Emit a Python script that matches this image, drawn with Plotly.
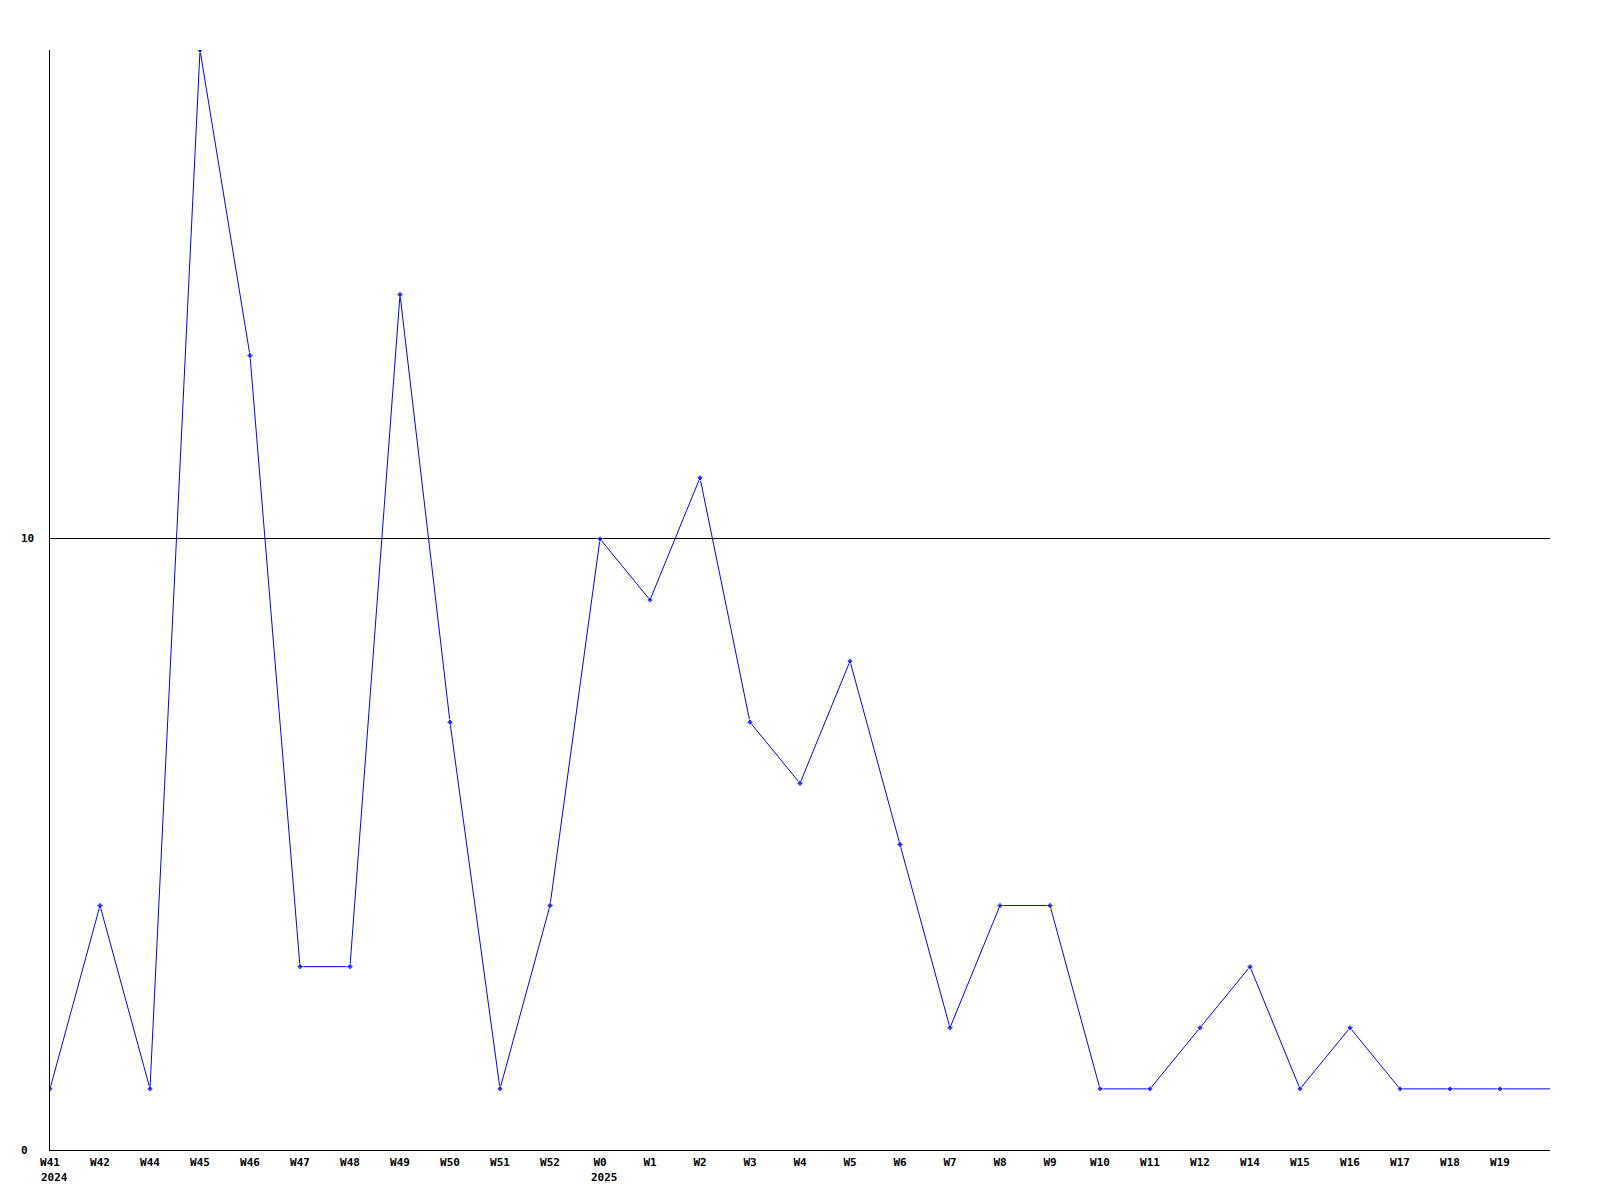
import plotly.graph_objects as go

weeks = ["W41", "W42", "W44", "W45", "W46", "W47", "W48", "W49", "W50", "W51", "W52",
         "W0", "W1", "W2", "W3", "W4", "W5", "W6", "W7", "W8", "W9", "W10", "W11",
         "W12", "W14", "W15", "W16", "W17", "W18", "W19", ""]
values = [1, 4, 1, 18, 13, 3, 3, 14, 7, 1, 4,
          10, 9, 11, 7, 6, 8, 5, 2, 4, 4, 1, 1,
          2, 3, 1, 2, 1, 1, 1, 1]
year_labels = {"W41": "2024", "W0": "2025"}
y_ticks = [0, 10]

x = list(range(len(weeks)))
marker_sizes = [5 if w else 0 for w in weeks]

font_family = "DejaVu Sans Mono"
lab_font = dict(family=font_family, size=11, color="black", weight="bold")

fig = go.Figure()
fig.add_trace(go.Scatter(
    x=x, y=values, mode="lines+markers",
    line=dict(color="#0000FF", width=1),
    marker=dict(symbol="diamond", size=marker_sizes, color="#0000FF"),
    showlegend=False, hoverinfo="skip",
))

for w, yr in year_labels.items():
    fig.add_annotation(
        x=weeks.index(w), xref="x", y=0, yref="paper",
        text=yr, showarrow=False, xanchor="left", yanchor="top",
        xshift=-11, yshift=-19, font=lab_font,
    )

for v in y_ticks:
    fig.add_annotation(
        x=0, xref="paper", y=v, yref="y",
        text=str(v), showarrow=False, xanchor="left", yanchor="middle",
        xshift=-31, font=lab_font,
    )

fig.update_layout(
    width=1600, height=1200,
    margin=dict(l=42, r=58, t=42, b=58),
    paper_bgcolor="white", plot_bgcolor="white",
    xaxis=dict(
        range=[0, len(weeks) - 1], tickvals=x, ticktext=weeks,
        showgrid=False, zeroline=False, showline=True, linecolor="black", linewidth=1,
        ticks="", ticklabelstandoff=2, tickfont=lab_font,
    ),
    yaxis=dict(
        range=[0, 18], tickvals=y_ticks, showticklabels=False,
        showgrid=True, gridcolor="black", gridwidth=1,
        zeroline=False, showline=True, linecolor="black", linewidth=1,
        ticks="",
    ),
)

fig.write_html("out.html")
